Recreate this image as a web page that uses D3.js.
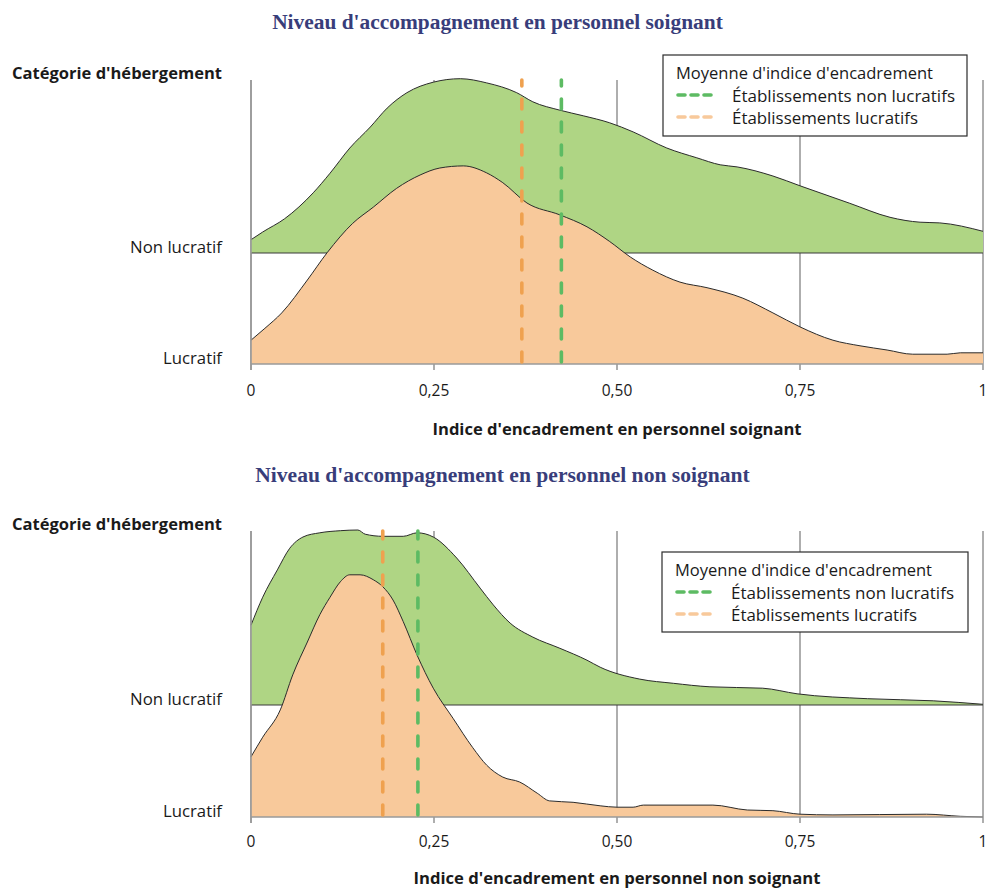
<!DOCTYPE html>
<html><head><meta charset="utf-8">
<script src="https://cdn.jsdelivr.net/npm/d3@7"></script>
<style>body{margin:0;background:#fff}</style>
</head><body>
<svg id="c" width="985" height="890"></svg>
<script>
// ---------- data ----------
const categories = ["Non lucratif", "Lucratif"];
const xTicks = [0, 0.25, 0.5, 0.75, 1];
const tickLabels = ["0", "0,25", "0,50", "0,75", "1"];
const yAxisTitle = "Catégorie d'hébergement";
const legendTitle = "Moyenne d'indice d'encadrement";
const legendLabels = ["Établissements non lucratifs", "Établissements lucratifs"];
const panelTitles = ["Niveau d'accompagnement en personnel soignant", "Niveau d'accompagnement en personnel non soignant"];
const xAxisTitles = ["Indice d'encadrement en personnel soignant", "Indice d'encadrement en personnel non soignant"];

// density curves : [indice, densité]
const soignantNonLucratif = [[0,0.19],[0.016,0.30],[0.046,0.49],[0.085,0.86],[0.108,1.14],[0.135,1.50],[0.163,1.80],[0.186,2.07],[0.213,2.29],[0.249,2.44],[0.286,2.49],[0.322,2.43],[0.363,2.29],[0.385,2.16],[0.422,2.04],[0.454,1.96],[0.490,1.86],[0.522,1.73],[0.568,1.50],[0.609,1.36],[0.641,1.26],[0.664,1.23],[0.713,1.10],[0.750,0.96],[0.818,0.71],[0.873,0.51],[0.914,0.44],[0.941,0.43],[1,0.31]];
const soignantLucratif = [[0,0.34],[0.019,0.51],[0.042,0.73],[0.077,1.20],[0.104,1.59],[0.139,2.01],[0.167,2.24],[0.199,2.51],[0.231,2.70],[0.258,2.80],[0.290,2.83],[0.322,2.73],[0.344,2.59],[0.377,2.30],[0.422,2.13],[0.459,1.96],[0.490,1.75],[0.518,1.53],[0.549,1.34],[0.586,1.17],[0.623,1.09],[0.672,0.94],[0.713,0.73],[0.750,0.53],[0.795,0.34],[0.832,0.26],[0.869,0.20],[0.904,0.14],[0.951,0.14],[0.969,0.16],[1,0.16]];
const nonSoignantNonLucratif = [[0,1.14],[0.016,1.54],[0.036,1.93],[0.053,2.24],[0.071,2.40],[0.094,2.46],[0.122,2.49],[0.146,2.50],[0.156,2.44],[0.180,2.41],[0.208,2.41],[0.227,2.46],[0.249,2.40],[0.281,2.10],[0.313,1.67],[0.331,1.43],[0.354,1.17],[0.385,0.97],[0.422,0.81],[0.459,0.64],[0.477,0.54],[0.531,0.37],[0.577,0.31],[0.627,0.26],[0.699,0.24],[0.746,0.16],[0.842,0.09],[0.932,0.06],[1,0.01]];
const nonSoignantLucratif = [[0,0.86],[0.016,1.14],[0.040,1.53],[0.057,2.03],[0.077,2.50],[0.094,2.89],[0.108,3.14],[0.122,3.36],[0.135,3.46],[0.149,3.46],[0.167,3.39],[0.180,3.29],[0.194,3.10],[0.208,2.79],[0.227,2.31],[0.249,1.84],[0.276,1.41],[0.303,0.99],[0.322,0.74],[0.344,0.57],[0.367,0.50],[0.391,0.34],[0.408,0.23],[0.440,0.21],[0.477,0.16],[0.500,0.14],[0.522,0.14],[0.536,0.17],[0.631,0.17],[0.678,0.10],[0.713,0.09],[0.750,0.04],[0.795,0.03],[0.923,0.04],[0.969,0.01],[1,0]];
// moyennes [non lucratif, lucratif]
const meansSoignant = [0.424, 0.370];
const meansNonSoignant = [0.228, 0.180];

// ---------- style ----------
const SANS = "'Open Sans', 'Noto Sans', sans-serif";
const SERIF = "'Liberation Serif', 'DejaVu Serif', serif";
const fillNL = "#afd584", fillL = "#f8c99b";
const lineNL = "#5dbb63", lineL = "#efa14f", legendL = "#f8c99b";
const gridCol = "#9a9a9a";

const svg = d3.select("#c");
const x = d3.scaleLinear().domain([0, 1]).range([251, 983]);
const h = d3.scaleLinear().domain([0, 1]).range([0, 70]);

function fitText(sel, w) {
  sel.attr("textLength", w).attr("lengthAdjust", "spacingAndGlyphs");
}

const panels = [
  { top: 80, base: [253, 364], title: panelTitles[0], titleY: 29, titleX: 497.5, titleW: 451,
    curves: [soignantNonLucratif, soignantLucratif], means: meansSoignant,
    xTitle: xAxisTitles[0], xTitleW: 369, tickY: 396, xTitleY: 435, catTitleY: 79,
    legend: { x: 663, y: 55, w: 304, h: 81 } },
  { top: 531, base: [705, 817], title: panelTitles[1], titleY: 482, titleX: 502.5, titleW: 495,
    curves: [nonSoignantNonLucratif, nonSoignantLucratif], means: meansNonSoignant,
    xTitle: xAxisTitles[1], xTitleW: 407, tickY: 847, xTitleY: 884, catTitleY: 530,
    legend: { x: 662, y: 552, w: 306, h: 80 } }
];

panels.forEach(p => {
  const g = svg.append("g");
  const yCat = d3.scalePoint().domain(categories).range(p.base);
  const bottom = yCat("Lucratif");

  // title
  const t = g.append("text").attr("x", p.titleX).attr("y", p.titleY)
    .attr("text-anchor", "middle").attr("font-family", SERIF).attr("font-weight", "bold")
    .attr("font-size", 20).attr("fill", "#383d7a").text(p.title);
  const tw = t.node().getComputedTextLength();
  t.attr("font-size", 20 * p.titleW / tw);

  // gridlines
  g.selectAll("line.grid").data(xTicks).join("line").attr("class", "grid")
    .attr("x1", d => x(d)).attr("x2", d => x(d))
    .attr("y1", p.top).attr("y2", bottom + 6)
    .attr("stroke", gridCol).attr("stroke-width", 1.6);

  // ridges
  const fills = [fillNL, fillL];
  categories.forEach((cat, i) => {
    const base = yCat(cat);
    const data = p.curves[i];
    const area = d3.area().x(d => x(d[0])).y0(base).y1(d => base - h(d[1])).curve(d3.curveMonotoneX);
    const line = d3.line().x(d => x(d[0])).y(d => base - h(d[1])).curve(d3.curveMonotoneX);
    g.append("path").datum(data).attr("d", area).attr("fill", fills[i]);
    g.append("path").datum(data).attr("d", line).attr("fill", "none")
      .attr("stroke", "#2b2b2b").attr("stroke-width", 1);
    g.append("line").attr("x1", x(0)).attr("x2", x(1)).attr("y1", base).attr("y2", base)
      .attr("stroke", i === 0 ? "#3a3a3a" : gridCol).attr("stroke-width", i === 0 ? 1.2 : 1.6);
  });

  // axis lines
  g.append("line").attr("x1", x(0)).attr("x2", x(0)).attr("y1", p.top).attr("y2", bottom + 6)
    .attr("stroke", gridCol).attr("stroke-width", 1.6);

  // mean lines
  const mcols = [lineNL, lineL];
  [1, 0].forEach(i => {
    g.append("line").attr("x1", x(p.means[i])).attr("x2", x(p.means[i]))
      .attr("y1", bottom - 2).attr("y2", p.top)
      .attr("stroke", mcols[i]).attr("stroke-width", 3.6)
      .attr("stroke-dasharray", "10,13").attr("stroke-linecap", "round");
  });

  // tick labels
  g.selectAll("text.tick").data(xTicks).join("text").attr("class", "tick")
    .attr("x", d => x(d)).attr("y", p.tickY).attr("text-anchor", "middle")
    .attr("font-family", SANS).attr("font-size", 15.5).attr("fill", "#1a1a1a")
    .text((d, i) => tickLabels[i]);

  // x axis title
  g.append("text").attr("x", (x(0) + x(1)) / 2).attr("y", p.xTitleY).attr("text-anchor", "middle")
    .attr("font-family", SANS).attr("font-weight", "bold").attr("font-size", 15.5).attr("fill", "#1a1a1a")
    .text(p.xTitle).call(fitText, p.xTitleW);

  // category title and labels
  g.append("text").attr("x", 12).attr("y", p.catTitleY)
    .attr("font-family", SANS).attr("font-weight", "bold").attr("font-size", 15.5).attr("fill", "#1a1a1a")
    .text(yAxisTitle).call(fitText, 210);
  const catW = [92, 59];
  categories.forEach((cat, i) => {
    g.append("text").attr("x", 222).attr("y", yCat(cat)).attr("text-anchor", "end")
      .attr("font-family", SANS).attr("font-size", 15.5).attr("fill", "#1a1a1a")
      .text(cat).call(fitText, catW[i]);
  });

  // legend
  const L = p.legend;
  const lg = g.append("g").attr("transform", `translate(${L.x},${L.y})`);
  lg.append("rect").attr("width", L.w).attr("height", L.h).attr("fill", "#fff")
    .attr("stroke", "#2b2b2b").attr("stroke-width", 1.2);
  lg.append("text").attr("x", 13).attr("y", 24).attr("font-family", SANS).attr("font-size", 17)
    .attr("fill", "#1a1a1a").text(legendTitle).call(fitText, 257);
  const legCols = [lineNL, legendL];
  const legW = [223, 186];
  legendLabels.forEach((lab, i) => {
    const yy = 47 + i * 22;
    lg.append("line").attr("x1", 15).attr("x2", 50).attr("y1", yy - 7).attr("y2", yy - 7)
      .attr("stroke", legCols[i]).attr("stroke-width", 3.6)
      .attr("stroke-dasharray", "7,6").attr("stroke-linecap", "round");
    lg.append("text").attr("x", 69).attr("y", yy).attr("font-family", SANS).attr("font-size", 17)
      .attr("fill", "#1a1a1a").text(lab).call(fitText, legW[i]);
  });
});
</script>
</body></html>
